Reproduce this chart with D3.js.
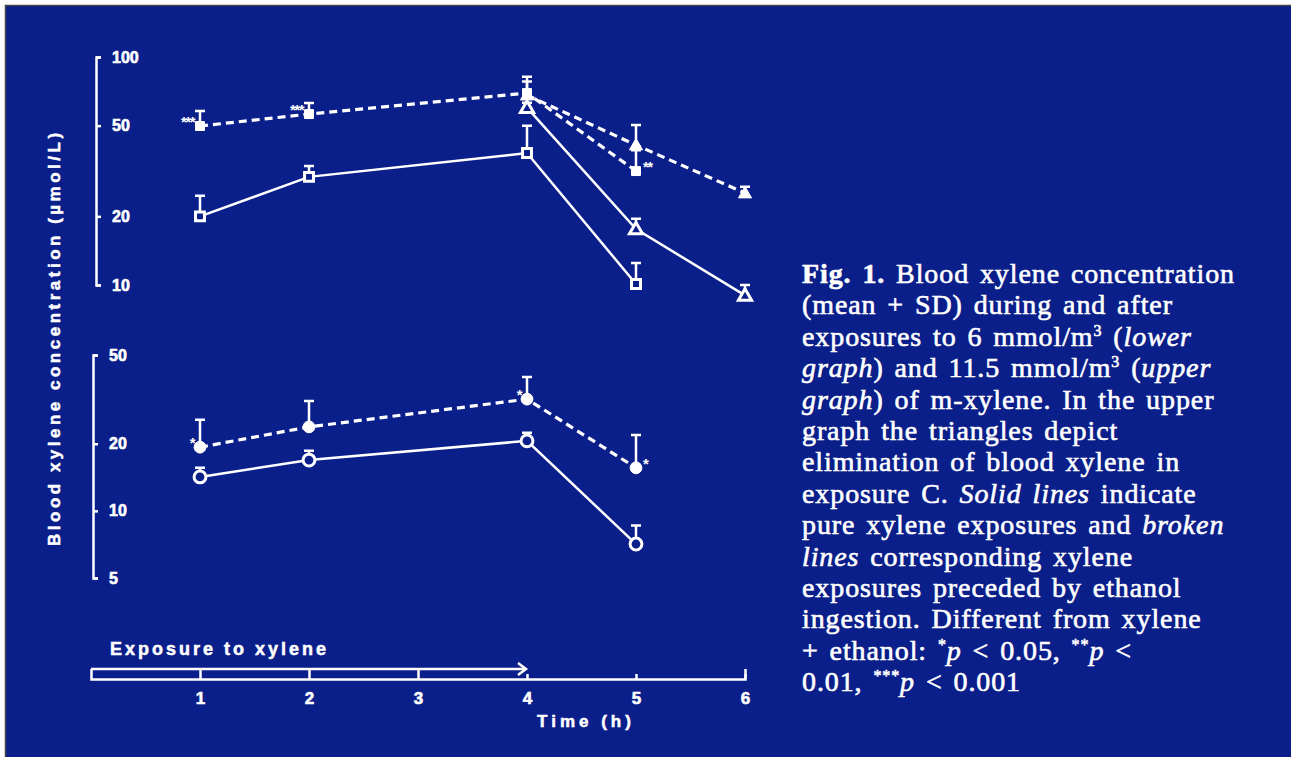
<!DOCTYPE html>
<html>
<head>
<meta charset="utf-8">
<script src="https://cdn.jsdelivr.net/npm/d3@7"></script>
<style>
body { margin: 0; background: #fff; }
svg text { fill: #fff; }
.ax { font-family: "Liberation Sans", Arial, sans-serif; font-weight: bold; }
.cap { font-family: "Liberation Serif", "Times New Roman", serif; }
</style>
</head>
<body>
<script>
// time points (h)
const hoursExposure = [1, 2, 4, 5]
const hoursElimination = [4, 5, 6]

// upper graph, 11.5 mmol/m3 (umol/L), mean and SD
const upperXylene = [20.0, 29.8, 37.9, 10.1]
const upperXyleneSD = [4.6, 3.5, 12.1, 2.4]
const upperEthanol = [49.8, 56.2, 69.5, 31.6]
const upperEthanolSD = [8.2, 6.7, 8.5, 7.4]
const upperTriXylene = [60, 17.6, 9.0]
const upperTriXyleneSD = [3, 1.9, 1.0]
const upperTriEthanol = [68, 41.1, 25.3]
const upperTriEthanolSD = [14, 9.2, 1.7]

// lower graph, 6 mmol/m3
const lowerXylene = [14.2, 16.9, 20.6, 7.1]
const lowerXyleneSD = [1.4, 1.7, 1.8, 1.5]
const lowerEthanol = [19.3, 23.8, 31.7, 15.6]
const lowerEthanolSD = [6.3, 7.3, 8.1, 6.3]

const upperTicks = [10, 20, 50, 100]
const lowerTicks = [5, 10, 20, 50]
const timeTicks = [1, 2, 3, 4, 5, 6]

// significance marks: graph, hour, value, label, side
const stars = [
  ['upper', 1, 49.8, '***', 'left'],
  ['upper', 2, 56.2, '***', 'left'],
  ['upper', 5, 31.6, '**', 'right'],
  ['lower', 1, 19.3, '*', 'left'],
  ['lower', 4, 31.7, '*', 'left'],
  ['lower', 5, 15.6, '*', 'right']
]

const captionLines = [
  [['Fig. 1.', 'b'], [' Blood xylene concentration']],
  [['(mean + SD) during and after']],
  [['exposures to 6 mmol/m'], ['3', 'sup'], [' ('], ['lower', 'i']],
  [['graph', 'i'], [') and 11.5 mmol/m'], ['3', 'sup'], [' ('], ['upper', 'i']],
  [['graph', 'i'], [') of m-xylene. In the upper']],
  [['graph the triangles depict']],
  [['elimination of blood xylene in']],
  [['exposure C. '], ['Solid lines', 'i'], [' indicate']],
  [['pure xylene exposures and '], ['broken', 'i']],
  [['lines', 'i'], [' corresponding xylene']],
  [['exposures preceded by ethanol']],
  [['ingestion. Different from xylene']],
  [['+ ethanol: '], ['*', 'sup'], ['p', 'i'], [' < 0.05, '], ['**', 'sup'], ['p', 'i'], [' <']],
  [['0.01, '], ['***', 'sup'], ['p', 'i'], [' < 0.001']]
]

const blue = '#0b1f8a'
const W = 1291, H = 757

const svg = d3.select('body').append('svg')
  .attr('width', W)
  .attr('height', H)

svg.append('rect').attr('width', W).attr('height', H).attr('fill', '#fff')
svg.append('rect').attr('x', 5).attr('y', 5).attr('width', W - 5).attr('height', H - 5).attr('fill', blue)
svg.append('path').attr('d', `M5.5,${H}V5.5H${W}`).attr('fill', 'none').attr('stroke', '#444').attr('stroke-width', 1.5)

// scales
const x = d3.scaleLinear().domain([0, 6]).range([91, 745])
const yUp = d3.scaleLog().domain([10, 100]).range([285, 57])
const yLow = d3.scaleLog().domain([5, 50]).range([578, 355])

// y axes (bracket style, ticks pointing right)
function yAxis(scale, ticks, xPos) {
  const g = svg.append('g')
    .attr('class', 'ax')
    .attr('transform', `translate(${xPos},0)`)
    .call(d3.axisRight(scale).tickValues(ticks).tickSize(5).tickSizeOuter(5).tickPadding(11).tickFormat(d3.format('d')))
  g.attr('font-family', null).attr('font-size', null)
  g.selectAll('path, line').attr('stroke', '#fff').attr('stroke-width', 2.5)
  g.selectAll('text').attr('font-size', 16).attr('fill', '#fff').attr('stroke', '#fff').attr('stroke-width', 0.6)
}
yAxis(yUp, upperTicks, 96)
yAxis(yLow, lowerTicks, 93)

// x axis with exposure bar
const gx = svg.append('g')
  .attr('class', 'ax')
  .attr('transform', 'translate(0,679)')
  .call(d3.axisBottom(x).tickValues(timeTicks).tickSize(-5).tickSizeOuter(-10).tickPadding(13).tickFormat(d3.format('d')))
gx.attr('font-family', null).attr('font-size', null)
gx.selectAll('path, line').attr('stroke', '#fff').attr('stroke-width', 2.5)
gx.selectAll('.tick line').filter(d => d < 4).attr('y2', -10)
gx.selectAll('text').attr('font-size', 17).attr('fill', '#fff').attr('stroke', '#fff').attr('stroke-width', 0.6)
gx.append('line')
  .attr('x1', x(0)).attr('x2', x(4) - 1)
  .attr('y1', -10).attr('y2', -10)
  .attr('stroke', '#fff').attr('stroke-width', 2.5)
gx.append('path')
  .attr('d', `M${x(4) - 9},-16L${x(4) - 1},-10L${x(4) - 9},-4`)
  .attr('fill', 'none').attr('stroke', '#fff').attr('stroke-width', 2.5)

svg.append('text').attr('class', 'ax')
  .attr('x', 110).attr('y', 655)
  .attr('font-size', 18).attr('letter-spacing', 3)
  .attr('stroke', '#fff').attr('stroke-width', 0.5)
  .text('Exposure to xylene')

svg.append('text').attr('class', 'ax')
  .attr('x', 586).attr('y', 727)
  .attr('text-anchor', 'middle')
  .attr('font-size', 17).attr('letter-spacing', 4)
  .attr('stroke', '#fff').attr('stroke-width', 0.5)
  .text('Time (h)')

svg.append('text').attr('class', 'ax')
  .attr('transform', 'translate(60,546) rotate(-90)')
  .attr('font-size', 17).attr('letter-spacing', 3.5)
  .attr('stroke', '#fff').attr('stroke-width', 0.5)
  .text('Blood xylene concentration  (µmol/L)')

// series
const seriesList = [
  { y: yUp, hours: hoursExposure, mean: upperXylene, sd: upperXyleneSD, shape: 'square', filled: false, dashed: false },
  { y: yUp, hours: hoursExposure, mean: upperEthanol, sd: upperEthanolSD, shape: 'square', filled: true, dashed: true },
  { y: yUp, hours: hoursElimination, mean: upperTriXylene, sd: upperTriXyleneSD, shape: 'triangle', filled: false, dashed: false },
  { y: yUp, hours: hoursElimination, mean: upperTriEthanol, sd: upperTriEthanolSD, shape: 'triangle', filled: true, dashed: true },
  { y: yLow, hours: hoursExposure, mean: lowerXylene, sd: lowerXyleneSD, shape: 'circle', filled: false, dashed: false },
  { y: yLow, hours: hoursExposure, mean: lowerEthanol, sd: lowerEthanolSD, shape: 'circle', filled: true, dashed: true }
]

const symbols = {
  square: d3.symbol().type(d3.symbolSquare).size(80),
  triangle: d3.symbol().type(d3.symbolTriangle).size(75),
  circle: d3.symbol().type(d3.symbolCircle).size(110)
}

const gLines = svg.append('g')
const gErr = svg.append('g')
const gMarks = svg.append('g')

for (const s of seriesList) {
  const pts = s.hours.map((h, i) => ({ h: h, v: s.mean[i], sd: s.sd[i] }))
  const line = d3.line().x(d => x(d.h)).y(d => s.y(d.v))

  gLines.append('path')
    .attr('d', line(pts))
    .attr('fill', 'none')
    .attr('stroke', '#fff')
    .attr('stroke-width', s.dashed ? 3.2 : 2.5)
    .attr('stroke-dasharray', s.dashed ? '8,5' : null)

  // mean + SD bars
  gErr.selectAll(null)
    .data(pts)
    .enter().append('path')
    .attr('d', d => {
      const cx = x(d.h), top = s.y(d.v + d.sd)
      return `M${cx},${s.y(d.v)}V${top}M${cx - 5},${top}H${cx + 5}`
    })
    .attr('fill', 'none')
    .attr('stroke', '#fff')
    .attr('stroke-width', 2.5)

  gMarks.selectAll(null)
    .data(pts)
    .enter().append('path')
    .attr('transform', d => `translate(${x(d.h)},${s.y(d.v) + (s.shape === 'triangle' ? 1 : 0)})`)
    .attr('d', symbols[s.shape])
    .attr('fill', s.filled ? '#fff' : blue)
    .attr('stroke', '#fff')
    .attr('stroke-width', s.filled ? 1 : 3)
}

svg.append('g').attr('class', 'ax')
  .selectAll('text')
  .data(stars)
  .enter().append('text')
  .attr('x', d => x(d[1]) + (d[4] === 'left' ? -6 : 7))
  .attr('y', d => (d[0] === 'upper' ? yUp : yLow)(d[2]) + 1)
  .attr('text-anchor', d => d[4] === 'left' ? 'end' : 'start')
  .attr('font-size', 15)
  .attr('letter-spacing', -1.5)
  .text(d => d[3])

// caption
const cap = svg.append('text')
  .attr('class', 'cap')
  .attr('font-size', 28)
  .attr('letter-spacing', 0.9)
  .attr('word-spacing', 3)
  .attr('stroke', '#fff')
  .attr('stroke-width', 0.6)

captionLines.forEach((segs, i) => {
  let shift = 0
  segs.forEach((seg, j) => {
    const t = cap.append('tspan').text(seg[0])
    if (j === 0) t.attr('x', 802).attr('y', 283 + i * 31.4)
    if (seg[1] === 'i') t.attr('font-style', 'italic')
    if (seg[1] === 'b') t.attr('font-weight', 'bold')
    if (seg[1] === 'sup') {
      t.attr('font-size', 16).attr('dy', -10 - shift)
      shift = -10
    } else if (shift !== 0) {
      t.attr('dy', -shift)
      shift = 0
    }
  })
})
</script>
</body>
</html>
